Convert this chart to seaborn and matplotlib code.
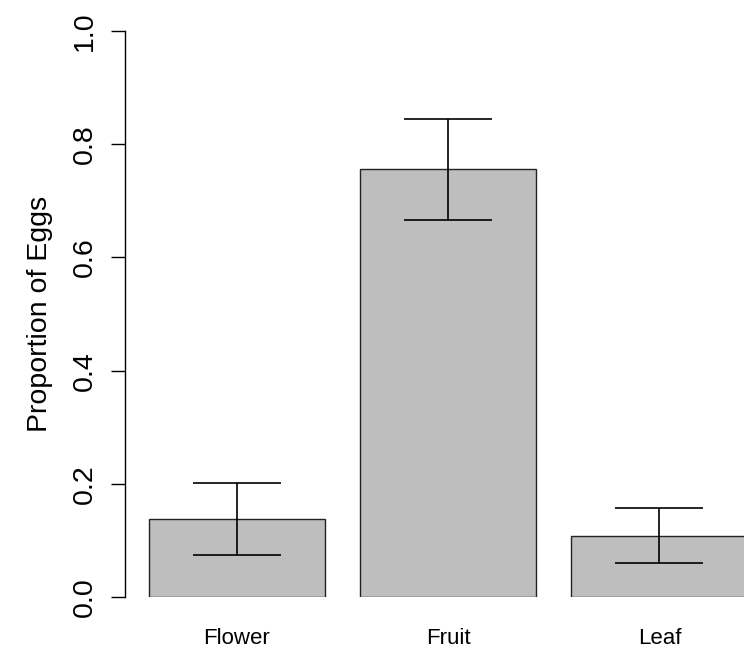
import matplotlib
matplotlib.use("Agg")
import matplotlib.pyplot as plt
import seaborn as sns
import pandas as pd
import numpy as np

# Oviposition site and proportion of eggs laid there, with interval bounds
sites = ["Flower", "Fruit", "Leaf"]
proportion = [0.138, 0.756, 0.108]
lower = [0.074, 0.666, 0.061]
upper = [0.201, 0.844, 0.157]
y_ticks = [0.0, 0.2, 0.4, 0.6, 0.8, 1.0]

df = pd.DataFrame({"site": sites, "proportion": proportion,
                   "lower": lower, "upper": upper})

sns.set_style("white")
plt.rcParams["font.family"] = ["Liberation Sans", "DejaVu Sans"]

W, H = 744, 653
fig = plt.figure(figsize=(W / 100, H / 100), dpi=100)
left_px, bottom_px, top_px = 125, 597.3, 30.7
ax = fig.add_axes([left_px / W, (H - bottom_px) / H,
                   (W - left_px) / W, (bottom_px - top_px) / H])

bar_w = 1 / 1.2
sns.barplot(data=df, x="site", y="proportion", color="#bebebe",
            saturation=1, edgecolor="#222222", linewidth=1.0,
            width=bar_w, errorbar=None, ax=ax)

pos = np.arange(len(sites))
yerr = [df["proportion"] - df["lower"], df["upper"] - df["proportion"]]
ax.errorbar(pos, df["proportion"], yerr=yerr, fmt="none", ecolor="black",
            elinewidth=1.2, capsize=31.7, capthick=1.2, zorder=5)

# bar spacing: 176 px per bar, 211.2 px between bar centres
ax.set_xlim(-0.530, (W - 237) / 211.2)
ax.set_ylim(0, 1)

for s in ["top", "right", "bottom"]:
    ax.spines[s].set_visible(False)
ax.spines["left"].set_color("black")
ax.spines["left"].set_linewidth(1.0)

ax.set_yticks(y_ticks)
ax.set_yticklabels([f"{t:.1f}" for t in y_ticks])
ax.tick_params(axis="y", length=10, width=1.0, color="black",
               labelsize=20.5, pad=9.5, labelcolor="black", left=True)
for lab in ax.get_yticklabels():
    lab.set_rotation(90)
    lab.set_va("center")

ax.tick_params(axis="x", length=0, labelsize=16, pad=22, labelcolor="black")
ax.set_xlabel("")
ax.set_ylabel("Proportion of Eggs", fontsize=20.5, color="black",
              va="baseline")
ax.yaxis.set_label_coords((47 - left_px) / (W - left_px), 0.5)

fig.savefig("out.png", dpi=100)
